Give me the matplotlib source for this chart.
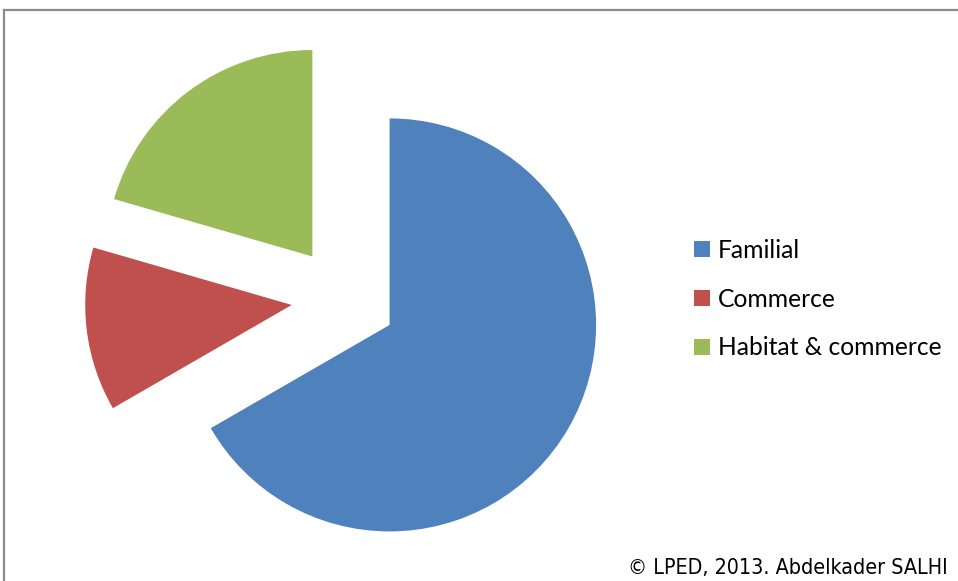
import matplotlib
matplotlib.use("Agg")
import matplotlib.pyplot as plt
from matplotlib.lines import Line2D

categories = ["Familial", "Commerce", "Habitat & commerce"]
values = [52, 10, 16]
colors = ["#4F81BD", "#C0504D", "#9BBB59"]
credit = "\u00a9 LPED, 2013. Abdelkader SALHI"

W, H = 958, 581
R = 206.5
fig = plt.figure(figsize=(W / 100, H / 100), dpi=100)
ax = fig.add_axes([0, 0, 1, 1])

# every slice pulled out from the centre by about a quarter of the radius
ax.pie(values, colors=colors, explode=[0.255 * R] * 3,
       startangle=90, counterclock=False, radius=R,
       center=(344, H - 298.6), wedgeprops=dict(linewidth=0), frame=True)
ax.set_xlim(0, W)
ax.set_ylim(0, H)
ax.set_aspect("equal")
ax.axis("off")

# chart frame (top and left edges)
ax.plot([4, W], [H - 10, H - 10], color="#8c8c8c", lw=1.6, clip_on=False)
ax.plot([4, 4], [0, H - 10], color="#8c8c8c", lw=1.6, clip_on=False)

handles = [Line2D([], [], marker="s", linestyle="none", markersize=11.5,
                  markerfacecolor=c, markeredgewidth=0) for c in colors]
ax.legend(handles, categories, loc="center left",
          bbox_to_anchor=(680 / W, 1 - 299 / H), frameon=False,
          prop=dict(family="Lato", size=17.7), handlelength=0.75,
          handletextpad=0.3, labelspacing=1.05, borderpad=0)

ax.text(948, H - 574, credit, ha="right", va="baseline",
        fontsize=15.4, family="DejaVu Sans", fontstretch="condensed")

fig.savefig("out.png", dpi=100)
